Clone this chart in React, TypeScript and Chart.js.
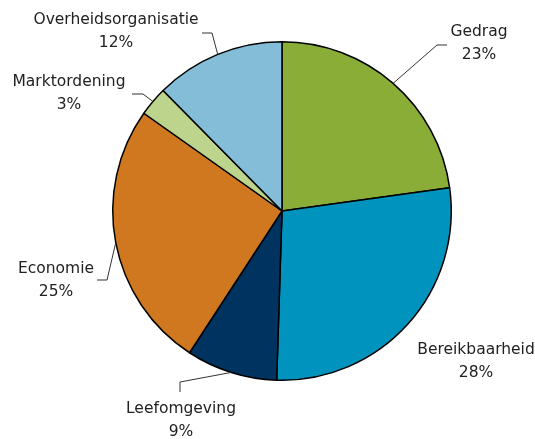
import React, { useEffect, useRef } from "react";
import { Chart, registerables } from "chart.js";

Chart.register(...registerables);

const categories = ["Gedrag", "Bereikbaarheid", "Leefomgeving", "Economie", "Marktordening", "Overheidsorganisatie"];
const shares = [22.8, 27.7, 8.7, 25.6, 2.8, 12.4];
const shareLabels = ["23%", "28%", "9%", "25%", "3%", "12%"];
const colors = ["#8aad38", "#0093bd", "#00335f", "#d0781f", "#bcd48b", "#84bdd8"];

// label placement relative to pie centre (px): text centre, elbow, end of leader line
const labelStyle = [
  { tx: 197, ty: -167.5, line: [[155, -166], [165, -166]] },
  { tx: 194, ty: 150.5, line: null },
  { tx: -101, ty: 209.5, line: [[-102, 171], [-102, 181]] },
  { tx: -226, ty: 69, line: [[-175, 69], [-185, 69]] },
  { tx: -213, ty: -117.5, line: [[-139, -117], [-150, -117]] },
  { tx: -166, ty: -179.5, line: [[-70, -178], [-80, -178]] },
];

const labelPlugin = {
  id: "outerLabels",
  afterDraw(chart: any) {
    const ctx = chart.ctx;
    const meta = chart.getDatasetMeta(0);
    ctx.save();
    meta.data.forEach((arc: any, i: number) => {
      const { x, y, startAngle, endAngle, outerRadius } = arc.getProps(["x", "y", "startAngle", "endAngle", "outerRadius"], true);
      const mid = (startAngle + endAngle) / 2;
      const st = labelStyle[i];
      if (st.line) {
        ctx.beginPath();
        ctx.strokeStyle = "#333";
        ctx.lineWidth = 1;
        ctx.moveTo(x + Math.cos(mid) * outerRadius, y + Math.sin(mid) * outerRadius);
        st.line.forEach((p) => ctx.lineTo(x + p[0], y + p[1]));
        ctx.stroke();
      }
      ctx.fillStyle = "#222";
      ctx.font = "15.5px 'DejaVu Sans'";
      ctx.textAlign = "center";
      ctx.textBaseline = "middle";
      ctx.fillText(categories[i], x + st.tx, y + st.ty - 11.5);
      ctx.fillText(shareLabels[i], x + st.tx, y + st.ty + 11.5);
    });
    ctx.restore();
  },
};

export default function App() {
  const ref = useRef<HTMLCanvasElement>(null);
  useEffect(() => {
    document.body.style.margin = "0";
    const chart = new Chart(ref.current!, {
      type: "pie",
      data: {
        labels: categories,
        datasets: [
          {
            data: shares,
            backgroundColor: colors,
            borderColor: "#000",
            borderWidth: 1.5,
          },
        ],
      },
      options: {
        animation: false,
        responsive: false,
        layout: { padding: { top: 41, bottom: 58, left: 112, right: 83 } },
        plugins: { legend: { display: false }, tooltip: { enabled: false } },
      },
      plugins: [labelPlugin],
    });
    return () => chart.destroy();
  }, []);
  return (
    <div style={{ width: 535, height: 439, background: "#fff" }}>
      <canvas ref={ref} width={535} height={439} />
    </div>
  );
}
